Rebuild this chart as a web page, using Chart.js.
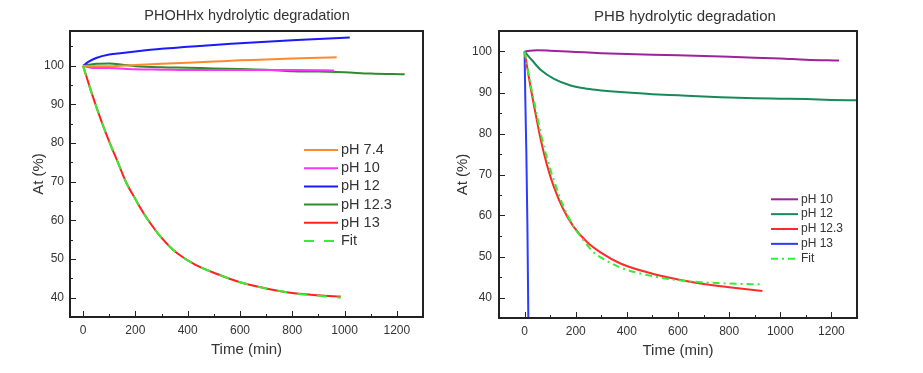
<!DOCTYPE html>
<html>
<head>
<meta charset="utf-8">
<script src="https://cdn.jsdelivr.net/npm/chart.js@4.4.1/dist/chart.umd.min.js"></script>
<style>
  html, body { margin: 0; padding: 0; background: #fff; }
  .wrap { position: absolute; top: 0; height: 373px; }
  #left { left: 0; width: 440px; }
  #right { left: 440px; width: 483px; }
</style>
</head>
<body>
<div class="wrap" id="left"><canvas id="phohhx" width="440" height="373"></canvas></div>
<div class="wrap" id="right"><canvas id="phb" width="483" height="373"></canvas></div>
<script>
// tick labels
const xTicks = [0, 200, 400, 600, 800, 1000, 1200];
const yTicks = [40, 50, 60, 70, 80, 90, 100];

// PHOHHx series (time in min, At in %)
const hxLabels = ['pH 7.4', 'pH 10', 'pH 12', 'pH 12.3', 'pH 13', 'Fit'];
const hx74T = [0, 50, 100, 200, 300, 400, 500, 600, 700, 800, 900, 970];
const hx74A = [100, 99.9, 99.9, 100.2, 100.5, 100.8, 101.1, 101.4, 101.6, 101.9, 102.1, 102.2];
const hx10T = [0, 30, 100, 200, 300, 400, 500, 600, 700, 800, 960];
const hx10A = [100, 99.5, 99.4, 99.1, 99.0, 98.9, 98.9, 98.9, 98.9, 98.9, 98.8];
const hx12T = [0, 20, 50, 100, 150, 200, 300, 400, 500, 600, 700, 800, 900, 1020];
const hx12A = [100, 101, 102, 102.9, 103.3, 103.7, 104.4, 104.9, 105.4, 105.8, 106.2, 106.6, 106.9, 107.3];
const hx123T = [0, 50, 100, 150, 200, 300, 400, 500, 600, 700, 800, 900, 1000, 1100, 1230];
const hx123A = [100, 100.5, 100.6, 100.3, 99.9, 99.6, 99.5, 99.3, 99.2, 99.0, 98.6, 98.5, 98.3, 98.0, 97.8];
const hx13T = [0, 25, 50, 75, 100, 130, 165, 200, 230, 260, 290, 330, 360, 430, 510, 600, 700, 800, 900, 985];
const hx13A = [100, 94.6, 89.5, 84.8, 80.4, 75.5, 69.8, 65.5, 62, 59, 56.3, 53.3, 51.5, 48.5, 46.2, 44, 42.4, 41.2, 40.6, 40.3];
const hxFitT = [0, 25, 50, 75, 100, 130, 165, 200, 230, 260, 290, 330, 360, 430, 510, 600, 700, 800, 900, 985];
const hxFitA = [100, 94.6, 89.5, 84.8, 80.4, 75.5, 69.8, 65.5, 62, 59, 56.3, 53.3, 51.5, 48.5, 46.2, 44, 42.4, 41.2, 40.5, 40.0];

// PHB series
const pbLabels = ['pH 10', 'pH 12', 'pH 12.3', 'pH 13', 'Fit'];
const pb10T = [0, 20, 50, 100, 200, 300, 400, 500, 600, 700, 800, 900, 1000, 1100, 1230];
const pb10A = [100, 100.2, 100.3, 100.2, 99.9, 99.6, 99.4, 99.2, 99.1, 98.9, 98.7, 98.5, 98.3, 98.0, 97.8];
const pb12T = [0, 30, 65, 115, 180, 245, 300, 375, 500, 600, 700, 800, 900, 1000, 1100, 1200, 1300];
const pb12A = [100, 97.8, 95.4, 93.3, 91.7, 90.9, 90.5, 90.1, 89.6, 89.3, 89.0, 88.8, 88.6, 88.5, 88.4, 88.2, 88.1];
const pb123T = [0, 20, 40, 65, 90, 115, 150, 190, 245, 300, 375, 500, 600, 700, 800, 930];
const pb123A = [100, 92.5, 85.8, 78, 71.8, 66.9, 61.7, 57.4, 53.5, 50.9, 48.3, 45.8, 44.4, 43.3, 42.5, 41.6];
const pb13T = [0, 3, 7, 11, 15];
const pb13A = [100, 88, 75, 58, 33];
const pbFitT = [0, 20, 40, 65, 90, 115, 150, 190, 230, 270, 300, 375, 500, 600, 700, 800, 930];
const pbFitA = [100, 93, 87, 79.5, 73.5, 68.5, 62.5, 57.5, 54, 51, 49.7, 47.3, 45.2, 44.2, 43.7, 43.4, 43.2];

const FONT = '"Liberation Sans", Arial, sans-serif';

function zip(t, a) {
    return t.map((v, i) => ({ x: v, y: a[i] }));
}

function line(label, t, a, color, dash, order) {
    return {
        label: label,
        data: zip(t, a),
        borderColor: color,
        backgroundColor: color,
        borderWidth: 2,
        borderDash: dash || [],
        pointRadius: 0,
        cubicInterpolationMode: 'monotone',
        order: order || 0,
        fill: false
    };
}

// box, inward ticks, title and legend inside the plot
const framePlugin = {
    id: 'frame',
    afterDraw(chart, args, opts) {
        const ctx = chart.ctx;
        const a = chart.chartArea;
        const xs = chart.scales.x;
        const ys = chart.scales.y;
        ctx.save();
        ctx.strokeStyle = '#222';
        ctx.lineWidth = 1;
        ctx.beginPath();
        for (let v = 0; v <= xs.max; v += 100) {
            const px = Math.round(xs.getPixelForValue(v)) + 0.5;
            const len = v % 200 === 0 ? 6 : 3;
            ctx.moveTo(px, a.bottom);
            ctx.lineTo(px, a.bottom - len);
        }
        for (let v = 35; v <= ys.max; v += 5) {
            const py = Math.round(ys.getPixelForValue(v)) + 0.5;
            const len = v % 10 === 0 ? 6 : 3;
            ctx.moveTo(a.left, py);
            ctx.lineTo(a.left + len, py);
        }
        ctx.stroke();

        ctx.lineWidth = 2;
        ctx.strokeRect(a.left, a.top, a.right - a.left, a.bottom - a.top);

        ctx.fillStyle = '#333';
        ctx.font = opts.titleSize + 'px ' + FONT;
        ctx.textAlign = 'center';
        ctx.textBaseline = 'middle';
        ctx.fillText(opts.title, opts.titleX, opts.titleY);

        // legend
        ctx.font = opts.legendSize + 'px ' + FONT;
        ctx.textAlign = 'left';
        chart.data.datasets.forEach((ds, i) => {
            const y = opts.legendY + i * opts.legendRow;
            ctx.strokeStyle = ds.borderColor;
            ctx.lineWidth = 2;
            ctx.setLineDash(ds.borderDash);
            ctx.beginPath();
            ctx.moveTo(opts.legendX, y);
            ctx.lineTo(opts.legendX + opts.legendLen, y);
            ctx.stroke();
            ctx.setLineDash([]);
            ctx.fillStyle = '#333';
            ctx.fillText(ds.label, opts.legendX + opts.legendLen + 3, y);
        });
        ctx.restore();
    }
};

function makeOptions(cfg) {
    return {
        responsive: false,
        animation: false,
        layout: { padding: { left: 0, top: 31, right: cfg.padRight, bottom: 0 } },
        plugins: {
            legend: { display: false },
            tooltip: { enabled: false },
            frame: cfg.frame
        },
        scales: {
            x: {
                type: 'linear',
                min: cfg.xMin,
                max: 1300,
                afterBuildTicks: (s) => { s.ticks = xTicks.map(v => ({ value: v })); },
                afterFit: (s) => { s.height = cfg.xHeight; },
                grid: { display: false, drawTicks: false },
                border: { display: false },
                ticks: { color: '#333', padding: 6, font: { family: FONT, size: 12 }, callback: (v) => String(v) },
                title: { display: true, text: 'Time (min)', color: '#333', font: { family: FONT, size: 15 }, padding: { bottom: cfg.xTitlePad } }
            },
            y: {
                type: 'linear',
                min: 35,
                max: cfg.yMax,
                afterBuildTicks: (s) => { s.ticks = yTicks.map(v => ({ value: v })); },
                afterFit: (s) => { s.width = cfg.yWidth; },
                grid: { display: false, drawTicks: false },
                border: { display: false },
                ticks: { color: '#333', padding: cfg.yPad, font: { family: FONT, size: 12 }, callback: (v) => String(v) },
                title: { display: true, text: 'At (%)', color: '#333', font: { family: FONT, size: 15 }, padding: { top: cfg.yTitlePad } }
            }
        }
    };
}

new Chart(document.getElementById('phohhx').getContext('2d'), {
    type: 'line',
    data: {
        datasets: [
            line(hxLabels[0], hx74T, hx74A, '#ff8a2e'),
            line(hxLabels[1], hx10T, hx10A, '#ff33ff'),
            line(hxLabels[2], hx12T, hx12A, '#1a1aff'),
            line(hxLabels[3], hx123T, hx123A, '#2e8b2e'),
            line(hxLabels[4], hx13T, hx13A, '#ff2020'),
            line(hxLabels[5], hxFitT, hxFitA, '#33ee33', [10, 10], -1)
        ]
    },
    options: makeOptions({
        padRight: 17, xMin: -50, yMax: 109, xHeight: 56, yWidth: 70,
        yPad: 6, xTitlePad: 14, yTitlePad: 30,
        frame: {
            title: 'PHOHHx hydrolytic degradation', titleX: 247, titleY: 16, titleSize: 14.5,
            legendX: 304, legendLen: 34, legendY: 150, legendRow: 18.2, legendSize: 14.5
        }
    }),
    plugins: [framePlugin]
});

new Chart(document.getElementById('phb').getContext('2d'), {
    type: 'line',
    data: {
        datasets: [
            line(pbLabels[0], pb10T, pb10A, '#9b239b'),
            line(pbLabels[1], pb12T, pb12A, '#178a5a'),
            line(pbLabels[2], pb123T, pb123A, '#ff2a2a'),
            line(pbLabels[3], pb13T, pb13A, '#2a3cff'),
            line(pbLabels[4], pbFitT, pbFitA, '#33ee33', [7, 4, 2, 4], -1)
        ]
    },
    options: makeOptions({
        padRight: 66, xMin: -100, yMax: 105, xHeight: 55, yWidth: 59,
        yPad: 7, xTitlePad: 13, yTitlePad: 14,
        frame: {
            title: 'PHB hydrolytic degradation', titleX: 245, titleY: 17, titleSize: 15,
            legendX: 331, legendLen: 27, legendY: 199.3, legendRow: 14.85, legendSize: 12
        }
    }),
    plugins: [framePlugin]
});
</script>
</body>
</html>
